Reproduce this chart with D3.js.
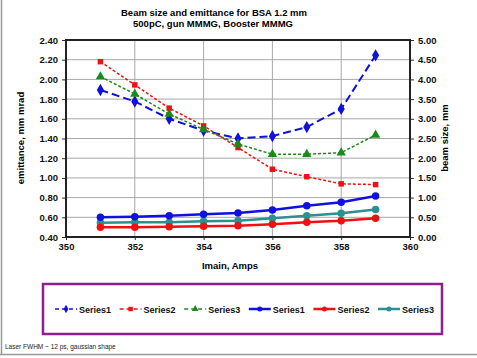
<!DOCTYPE html>
<html>
<head>
<meta charset="utf-8">
<script src="https://cdn.jsdelivr.net/npm/d3@7"></script>
<style>
  html, body { margin: 0; padding: 0; background: #fff; }
  svg { display: block; font-family: "Liberation Sans", Arial, sans-serif; }
</style>
</head>
<body>
<svg id="chart" width="477" height="358"></svg>
<script>
// Main-coil current scan
const currents = [351, 352, 353, 354, 355, 356, 357, 358, 359];

// Beam size, mm (right axis, dashed)
const beamSize1 = [3.73, 3.44, 3.00, 2.70, 2.50, 2.56, 2.79, 3.25, 4.61];
const beamSize2 = [4.45, 3.86, 3.27, 2.82, 2.27, 1.72, 1.53, 1.35, 1.33];
const beamSize3 = [4.07, 3.63, 3.12, 2.73, 2.36, 2.10, 2.10, 2.14, 2.59];

// Emittance, mm mrad (left axis, solid)
const emit1 = [0.600, 0.606, 0.616, 0.630, 0.644, 0.674, 0.718, 0.752, 0.816];
const emit2 = [0.500, 0.500, 0.505, 0.510, 0.515, 0.530, 0.550, 0.565, 0.590];
const emit3 = [0.545, 0.550, 0.550, 0.560, 0.565, 0.590, 0.616, 0.640, 0.680];

const xTicks = [350, 352, 354, 356, 358, 360];
const yLeftTicks = [0.40, 0.60, 0.80, 1.00, 1.20, 1.40, 1.60, 1.80, 2.00, 2.20, 2.40];
const yRightTicks = [0, 0.5, 1, 1.5, 2, 2.5, 3, 3.5, 4, 4.5, 5];

const titleLines = ["Beam size and emittance for BSA 1.2 mm", "500pC, gun MMMG, Booster MMMG"];
const xLabel = "Imain, Amps";
const yLeftLabel = "emittance, mm mrad";
const yRightLabel = "beam size, mm";
const footnote = "Laser FWHM ~ 12 ps, gaussian shape";

const BLUE = "#1010e0", RED = "#ee1111", GREEN = "#1a8a1a", TEAL = "#2a9090";

const series = [
  { name: "Series1", values: beamSize1, axis: "right", color: BLUE, dash: "8,4", width: 2, marker: "diamond" },
  { name: "Series2", values: beamSize2, axis: "right", color: RED, dash: "3,2", width: 1.5, marker: "square" },
  { name: "Series3", values: beamSize3, axis: "right", color: GREEN, dash: "3,2", width: 1.5, marker: "triangle" },
  { name: "Series1", values: emit1, axis: "left", color: BLUE, dash: null, width: 2.5, marker: "circle" },
  { name: "Series2", values: emit2, axis: "left", color: RED, dash: null, width: 2.5, marker: "circle" },
  { name: "Series3", values: emit3, axis: "left", color: TEAL, dash: null, width: 2.5, marker: "circle" }
];

const plot = { left: 66, right: 410, top: 40, bottom: 237 };

const svg = d3.select("#chart");

// outer frame edges
svg.append("line").attr("x1", 1.5).attr("x2", 1.5).attr("y1", 0).attr("y2", 354)
  .attr("stroke", "#999").attr("stroke-width", 1.5);
svg.append("line").attr("x1", 0).attr("x2", 477).attr("y1", 354.5).attr("y2", 354.5)
  .attr("stroke", "#999").attr("stroke-width", 1.5);

const x = d3.scaleLinear().domain([350, 360]).range([plot.left, plot.right]);
const yL = d3.scaleLinear().domain([0.4, 2.4]).range([plot.bottom, plot.top]);
const yR = d3.scaleLinear().domain([0, 5]).range([plot.bottom, plot.top]);

// gridlines
const grid = svg.append("g");
grid.selectAll("line.h").data(yLeftTicks).join("line")
  .attr("x1", plot.left).attr("x2", plot.right)
  .attr("y1", d => yL(d)).attr("y2", d => yL(d))
  .attr("stroke", "#a8a8a8").attr("stroke-width", 1);
grid.selectAll("line.v").data(xTicks).join("line")
  .attr("x1", d => x(d)).attr("x2", d => x(d))
  .attr("y1", plot.top).attr("y2", plot.bottom)
  .attr("stroke", "#a8a8a8").attr("stroke-width", 1);

// axes
const tickFont = g => g.selectAll("text")
  .attr("font-size", 9.5).attr("font-weight", "bold").attr("fill", "#111")
  .attr("font-family", "Liberation Sans, Arial, sans-serif");

const axL = svg.append("g").attr("transform", `translate(${plot.left},0)`)
  .call(d3.axisLeft(yL).tickValues(yLeftTicks).tickFormat(d3.format(".2f")).tickSize(4).tickPadding(4));
const axR = svg.append("g").attr("transform", `translate(${plot.right},0)`)
  .call(d3.axisRight(yR).tickValues(yRightTicks).tickFormat(d3.format(".2f")).tickSize(4).tickPadding(4));
const axB = svg.append("g").attr("transform", `translate(0,${plot.bottom})`)
  .call(d3.axisBottom(x).tickValues(xTicks).tickFormat(d3.format("d")).tickSize(3).tickPadding(3));
[axL, axR, axB].forEach(a => {
  a.call(tickFont);
  a.select(".domain").remove();
  a.selectAll("line").attr("stroke", "#333");
});

// series lines and markers
const symbolFor = {
  diamond: d3.symbol().type(d3.symbolDiamond).size(44),
  square: d3.symbol().type(d3.symbolSquare).size(30),
  triangle: d3.symbol().type(d3.symbolTriangle).size(38),
  circle: d3.symbol().type(d3.symbolCircle).size(44)
};

const drawOrder = [0, 1, 2, 5, 4, 3];
drawOrder.forEach(i => {
  const s = series[i];
  const yS = s.axis === "left" ? yL : yR;
  const pts = currents.map((c, j) => [x(c), yS(s.values[j])]);
  const g = svg.append("g");
  g.append("path").attr("d", d3.line()(pts))
    .attr("fill", "none").attr("stroke", s.color).attr("stroke-width", s.width)
    .attr("stroke-dasharray", s.dash);
  g.selectAll("path.m").data(pts).join("path")
    .attr("transform", d => `translate(${d[0]},${d[1]})`)
    .attr("d", symbolFor[s.marker]())
    .attr("fill", s.color);
});

// plot border
svg.append("rect").attr("x", plot.left).attr("y", plot.top)
  .attr("width", plot.right - plot.left).attr("height", plot.bottom - plot.top)
  .attr("fill", "none").attr("stroke", "#222").attr("stroke-width", 2);

// title
svg.append("text").attr("x", 214).attr("y", 16).attr("text-anchor", "middle")
  .attr("font-size", 9.5).attr("font-weight", "bold").text(titleLines[0]);
svg.append("text").attr("x", 213).attr("y", 27).attr("text-anchor", "middle")
  .attr("font-size", 9.5).attr("font-weight", "bold").text(titleLines[1]);

// axis titles
svg.append("text").attr("x", 230).attr("y", 269).attr("text-anchor", "middle")
  .attr("font-size", 9.5).attr("font-weight", "bold").text(xLabel);
svg.append("text").attr("transform", "translate(24,138) rotate(-90)").attr("text-anchor", "middle")
  .attr("font-size", 9.5).attr("font-weight", "bold").text(yLeftLabel);
svg.append("text").attr("transform", "translate(448,138) rotate(-90)").attr("text-anchor", "middle")
  .attr("font-size", 9.5).attr("font-weight", "bold").text(yRightLabel);

// legend
svg.append("rect").attr("x", 43).attr("y", 284).attr("width", 399).attr("height", 50)
  .attr("fill", "#fff").attr("stroke", "#8e1f8e").attr("stroke-width", 2.5);
const legend = svg.append("g");
series.forEach((s, i) => {
  const lx = 55 + i * 64.6, ly = 309;
  const g = legend.append("g").attr("transform", `translate(${lx},${ly})`);
  g.append("line").attr("x1", 0).attr("x2", 22).attr("y1", 0).attr("y2", 0)
    .attr("stroke", s.color).attr("stroke-width", s.dash ? 1.5 : 2.5)
    .attr("stroke-dasharray", s.dash ? "4,3" : null);
  g.append("path").attr("transform", "translate(11,0)")
    .attr("d", d3.symbol().type({ diamond: d3.symbolDiamond, square: d3.symbolSquare, triangle: d3.symbolTriangle, circle: d3.symbolCircle }[s.marker]).size(20)())
    .attr("fill", s.color);
  g.append("text").attr("x", 24).attr("y", 3.5).attr("font-size", 9).attr("font-weight", "bold")
    .attr("fill", "#111").text(s.name);
});

// footnote
svg.append("text").attr("x", 5).attr("y", 349).attr("font-size", 6.5).attr("fill", "#222").text(footnote);
</script>
</body>
</html>
